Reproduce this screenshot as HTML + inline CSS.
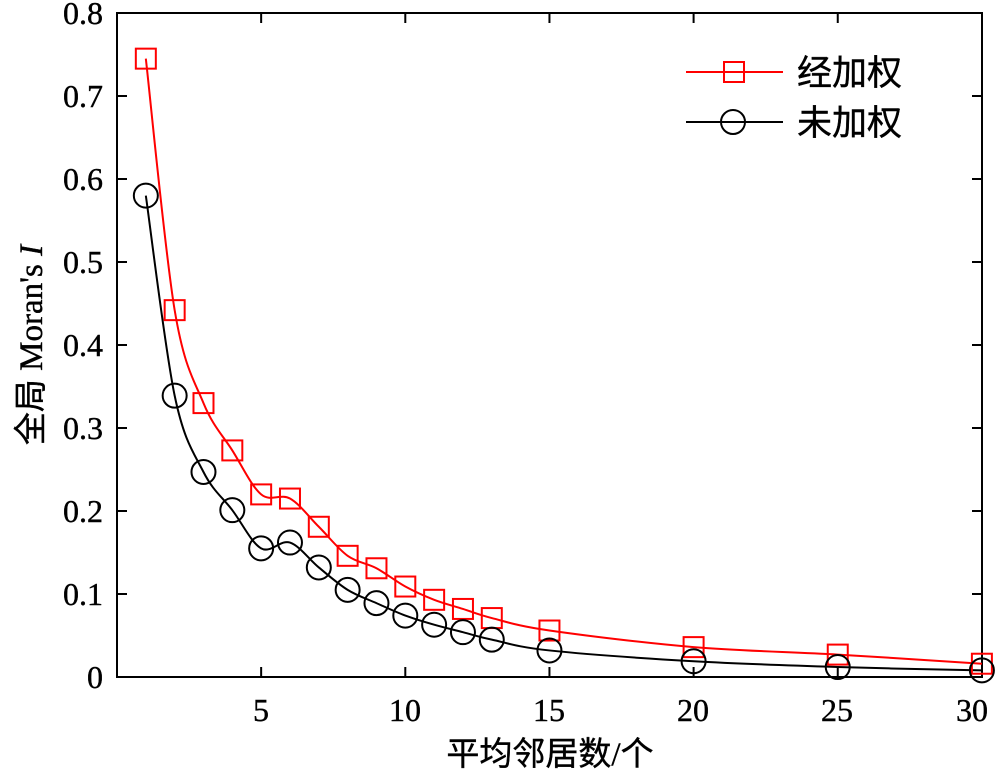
<!DOCTYPE html>
<html><head><meta charset="utf-8"><style>
html,body{margin:0;padding:0;background:#fff;}
svg text{font-family:"Liberation Serif","Noto Sans CJK SC",serif;fill:#000;stroke:#000;stroke-width:0.4;}
</style></head><body>
<svg id="s" width="1000" height="775" xmlns="http://www.w3.org/2000/svg">
<rect x="117" y="13" width="865" height="664" fill="none" stroke="#000" stroke-width="2"/>
<g font-size="32" text-anchor="end">
<text x="103" y="688">0</text>
<text x="103" y="605">0.1</text>
<text x="103" y="522">0.2</text>
<text x="103" y="439">0.3</text>
<text x="103" y="356">0.4</text>
<text x="103" y="273">0.5</text>
<text x="103" y="190">0.6</text>
<text x="103" y="107">0.7</text>
<text x="103" y="24">0.8</text>
</g>
<g font-size="32" text-anchor="middle">
<text x="261" y="721">5</text>
<text x="405" y="721">10</text>
<text x="549" y="721">15</text>
<text x="693" y="721">20</text>
<text x="837" y="721">25</text>
<text x="972" y="721">30</text>
</g>
<text x="550" y="765" font-size="33" text-anchor="middle">平均邻居数/个</text>
<text transform="translate(42,345) rotate(-90)" font-size="33" text-anchor="middle">全局 Moran's <tspan font-style="italic">I</tspan></text>
<line x1="686" y1="72" x2="783" y2="72" stroke="red" stroke-width="2"/>
<rect x="724" y="62" width="20" height="20" fill="none" stroke="red" stroke-width="2"/>
<line x1="686" y1="122" x2="783" y2="122" stroke="#000" stroke-width="2"/>
<circle cx="733" cy="122" r="12" fill="none" stroke="#000" stroke-width="2"/>
<text x="797" y="85" font-size="35">经加权</text>
<text x="797" y="135" font-size="35">未加权</text>
<g id="g"></g>
</svg>
<script>
var g=document.getElementById('g'),ns="http://www.w3.org/2000/svg";
function X(v){return 117+v*28.83;}function Y(v){return 677-v*830;}
function el(t,a){var e=document.createElementNS(ns,t);for(var k in a)e.setAttribute(k,a[k]);g.appendChild(e);return e;}
var xs=[1,2,3,4,5,6,7,8,9,10,11,12,13,15,20,25,30];
var w=[0.745,0.442,0.330,0.273,0.220,0.215,0.181,0.146,0.131,0.109,0.093,0.082,0.071,0.056,0.036,0.027,0.016];
var u=[0.580,0.339,0.247,0.201,0.155,0.162,0.132,0.105,0.089,0.074,0.063,0.054,0.045,0.032,0.019,0.012,0.008];
[5,10,15,20,25].forEach(function(v){el('line',{x1:X(v),y1:677,x2:X(v),y2:667,stroke:'#000','stroke-width':2});el('line',{x1:X(v),y1:13,x2:X(v),y2:23,stroke:'#000','stroke-width':2});});
for(var i=1;i<8;i++){var y=Y(i/10);el('line',{x1:117,y1:y,x2:127,y2:y,stroke:'#000','stroke-width':2});el('line',{x1:982,y1:y,x2:972,y2:y,stroke:'#000','stroke-width':2});}
function path(d){var p=d.map(function(v,i){return [X(xs[i]),Y(v)];});var s="M"+p[0][0]+","+p[0][1];
for(var i=0;i<p.length-1;i++){var p0=p[i-1]||p[i],p1=p[i],p2=p[i+1],p3=p[i+2]||p2;
s+=" C"+(p1[0]+(p2[0]-p0[0])/6)+","+(p1[1]+(p2[1]-p0[1])/6)+" "+(p2[0]-(p3[0]-p1[0])/6)+","+(p2[1]-(p3[1]-p1[1])/6)+" "+p2[0]+","+p2[1];}return s;}
el('path',{d:path(w),fill:'none',stroke:'red','stroke-width':2});
el('path',{d:path(u),fill:'none',stroke:'#000','stroke-width':2});
xs.forEach(function(x,i){el('rect',{x:X(x)-10,y:Y(w[i])-10,width:20,height:20,fill:'none',stroke:'red','stroke-width':2});
el('circle',{cx:X(x),cy:Y(u[i]),r:12,fill:'none',stroke:'#000','stroke-width':2});});
</script>
</body></html>
